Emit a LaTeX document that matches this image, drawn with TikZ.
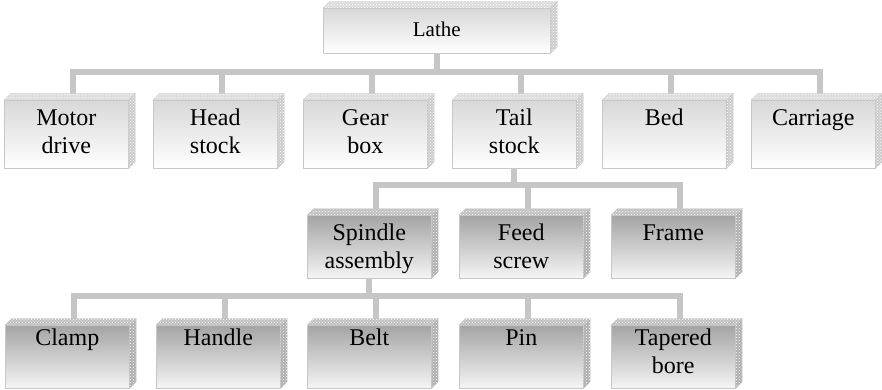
\documentclass[tikz,border=0pt]{standalone}
\usepackage{fontspec}
\setmainfont{Liberation Serif}
\usepackage{xcolor}
\usetikzlibrary{calc}
\usetikzlibrary{patterns}
\definecolor{bargray}{HTML}{C6C6C6}
\definecolor{edgegray}{HTML}{C8C8C8}
\definecolor{lighttop}{HTML}{D8D8D8}
\definecolor{darktop}{HTML}{A4A4A4}
\definecolor{lightface}{HTML}{DCDCDC}
\definecolor{lightside}{HTML}{CCCCCC}
\definecolor{darkface}{HTML}{C0C0C0}
\definecolor{darkside}{HTML}{AEAEAE}

\begin{document}
\begin{tikzpicture}[x=1pt, y=-1pt,
	part/.style={anchor=north west, draw=edgegray, line width=.6pt, inner sep=0pt, text width=124pt, align=center, font=\fontsize{24}{28}\selectfont},
	root/.style={part, text width=227pt, top color=lighttop, bottom color=white, text height=28pt, text depth=17pt, font=\fontsize{21}{24}\selectfont},
	upper/.style={part, top color=lighttop, bottom color=white, text height=25pt, text depth=43pt},
	middle/.style={part, top color=darktop, bottom color=white!96!black, text height=25pt, text depth=38pt},
	lower/.style={part, top color=darktop, bottom color=white!96!black, text height=20pt, text depth=43pt},
	link/.style={draw=bargray, line width=6pt},
	face/.style={fill=#1, draw=edgegray, line width=.3pt, postaction={pattern=crosshatch dots, pattern color=white}}]
	\useasboundingbox (0,0) rectangle (882,390);
	\coordinate (bus1) at (0,72);
	\coordinate (bus2) at (0,185);
	\coordinate (bus3) at (0,296);
	\node[root] (lathe) at (323,8) {Lathe};
	\node[upper] (motor) at (4,100) {Motor\\drive};
	\node[upper] (head) at (153,100) {Head\\stock};
	\node[upper] (gear) at (303,100) {Gear\\box};
	\node[upper] (tail) at (452,100) {Tail\\stock};
	\node[upper] (bed) at (602,100) {Bed};
	\node[upper] (carriage) at (751,100) {Carriage};
	\node[middle] (spindle) at (307,215) {Spindle\\assembly};
	\node[middle] (feed) at (459,215) {Feed\\screw};
	\node[middle] (frame) at (611,215) {Frame};
	\node[lower] (clamp) at (5,325) {Clamp};
	\node[lower] (handle) at (156,325) {Handle};
	\node[lower] (belt) at (307,325) {Belt};
	\node[lower] (pin) at (459,325) {Pin};
	\node[lower] (bore) at (611,325) {Tapered\\bore};
	% branches
	\foreach \n in {motor,head,gear,tail,bed,carriage}
		\draw[link] (lathe.south) -- (lathe.south |- bus1) -| ([xshift=7pt]\n.north);
	\foreach \n in {spindle,feed,frame}
		\draw[link] (tail.south) -- (tail.south |- bus2) -| ([xshift=7pt]\n.north);
	\foreach \n in {clamp,handle,belt,pin,bore}
		\draw[link] (spindle.south) -- (spindle.south |- bus3) -| ([xshift=7pt]\n.north);
	% top and side faces
	\foreach \n/\t/\s in {lathe/lightface/lightside, motor/lightface/lightside, head/lightface/lightside, gear/lightface/lightside, tail/lightface/lightside, bed/lightface/lightside, carriage/lightface/lightside, spindle/darkface/darkside, feed/darkface/darkside, frame/darkface/darkside, clamp/darkface/darkside, handle/darkface/darkside, belt/darkface/darkside, pin/darkface/darkside, bore/darkface/darkside} {
		\filldraw[face=\t] (\n.north west) -- ++(6.5,-6.5) -- ($(\n.north east)+(6.5,-6.5)$) -- (\n.north east) -- cycle;
		\filldraw[face=\s] (\n.north east) -- ++(6.5,-6.5) -- ($(\n.south east)+(6.5,-6.5)$) -- (\n.south east) -- cycle;
	}
\end{tikzpicture}
\end{document}
